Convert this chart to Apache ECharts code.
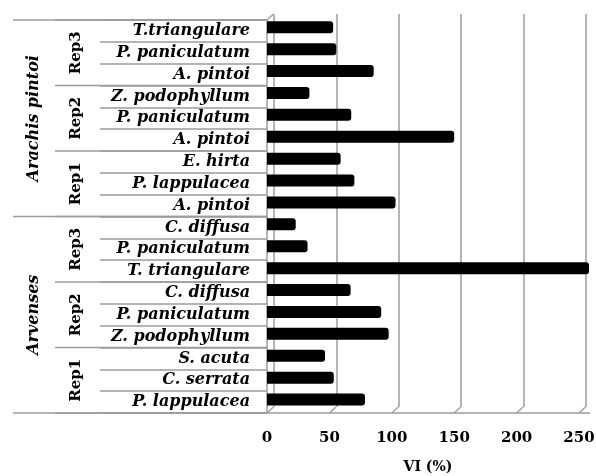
<!DOCTYPE html>
<html>
<head>
<meta charset="utf-8">
<script src="https://cdn.jsdelivr.net/npm/echarts@6/dist/echarts.min.js"></script>
<style>
html,body{margin:0;padding:0;background:#fff;}
#chart{width:596px;height:476px;}
</style>
</head>
<body>
<div id="chart"></div>
<script>
// ---- data (top to bottom) ----
const species = ['T.triangulare','P. paniculatum','A. pintoi',
  'Z. podophyllum','P. paniculatum','A. pintoi',
  'E. hirta','P. lappulacea','A. pintoi',
  'C. diffusa','P. paniculatum','T. triangulare',
  'C. diffusa','P. paniculatum','Z. podophyllum',
  'S. acuta','C. serrata','P. lappulacea'];
const viValues = [53, 55.5, 85.5, 34, 67.5, 150, 59, 70, 103,
  23, 32.5, 258, 67, 91.5, 97.5, 46.5, 53.5, 78.5];
const repLabels = ['Rep3','Rep2','Rep1','Rep3','Rep2','Rep1'];
const repSpans = [[0,2],[3,5],[6,8],[9,11],[12,14],[15,17]];
const groupLabels = ['Arachis pintoi','Arvenses'];
const groupSpans = [[0,8],[9,17]];
const xTicks = [0, 50, 100, 150, 200, 250];
const axisTitle = 'VI (%)';

const FONT = 'DejaVu Serif';
const LINE = '#9c9c9c';
const catIdx = species.map((s, i) => String(i));

const chart = echarts.init(document.getElementById('chart'), null, {renderer: 'canvas'});

// hierarchy (rep / group) labels + separator lines
const hierData = [];
repSpans.forEach((s, i) => hierData.push([0, s[0], s[1], 1, repLabels[i]]));
groupSpans.forEach((s, i) => hierData.push([0, s[0], s[1], 2, groupLabels[i]]));

function renderHier(params, api) {
  const start = api.value(1), end = api.value(2), level = api.value(3);
  const text = hierData[params.dataIndex][4];
  const band = api.size([0, 1])[1];
  const yTop = api.coord([0, start])[1] - band / 2;
  const yBot = api.coord([0, end])[1] + band / 2;
  const xRight = api.coord([0, 0])[0];
  const xLeft = level === 1 ? 55 : 13;
  const xText = level === 1 ? 76 : 34;
  const children = [
    {type: 'line', shape: {x1: xLeft, y1: yBot, x2: xRight, y2: yBot},
     style: {stroke: LINE, lineWidth: 1.5}},
    {type: 'text', x: xText, y: (yTop + yBot) / 2, rotation: Math.PI / 2,
     style: {text: text, fill: '#000', align: 'center', verticalAlign: 'middle',
       font: (level === 2 ? 'italic ' : '') + 'bold ' + (level === 2 ? 16 : 15) + 'px "' + FONT + '"'}}
  ];
  if (start === 0) {
    children.push({type: 'line', shape: {x1: xLeft, y1: yTop, x2: xRight, y2: yTop},
      style: {stroke: LINE, lineWidth: 1.5}});
  }
  return {type: 'group', children: children};
}

// pseudo-3D floor ticks & wall edges
function renderFloor(params, api) {
  const v = api.value(0);
  const band = api.size([0, 1])[1];
  const p = api.coord([v, species.length - 1]);
  const yBot = p[1] + band / 2;
  const children = [
    {type: 'line', shape: {x1: p[0], y1: yBot, x2: p[0] + 6.5, y2: yBot - 6},
     style: {stroke: LINE, lineWidth: 1.3}}
  ];
  if (params.dataIndex === 0) {
    const t = api.coord([0, 0]);
    const yTop = t[1] - band / 2;
    const xEnd = api.coord([xTicks[xTicks.length - 1], 0])[0] + 11;
    children.push(
      {type: 'line', shape: {x1: t[0], y1: yTop, x2: t[0] + 6.5, y2: yTop - 6},
       style: {stroke: LINE, lineWidth: 1.3}},
      {type: 'line', shape: {x1: t[0], y1: yTop, x2: t[0], y2: yBot},
       style: {stroke: LINE, lineWidth: 1.5}},
      {type: 'line', shape: {x1: t[0], y1: yBot, x2: xEnd, y2: yBot},
       style: {stroke: LINE, lineWidth: 1.5}}
    );
  }
  return {type: 'group', children: children};
}

const option = {
  backgroundColor: '#fff',
  animation: false,
  grid: [
    {left: 267, right: 17, top: 16.3, bottom: 65.5, outerBoundsMode: 'none', containLabel: false},
    {left: 267, right: 17, top: 20, bottom: 63, outerBoundsMode: 'none', containLabel: false},
    {left: 274, right: 10, top: 14, bottom: 69, outerBoundsMode: 'none', containLabel: false}
  ],
  xAxis: [
    {gridIndex: 0, type: 'value', min: 0, max: 250, interval: 50, show: false},
    {gridIndex: 1, type: 'value', min: 0, max: 250, interval: 50,
     axisLine: {show: false}, axisTick: {show: false}, splitLine: {show: false},
     axisLabel: {margin: 18, color: '#000', fontFamily: FONT, fontWeight: 'bold', fontSize: 15,
       formatter: v => xTicks.indexOf(v) >= 0 ? String(v) : ''},
     name: axisTitle, nameLocation: 'middle', nameGap: 47,
     nameTextStyle: {color: '#000', fontFamily: FONT, fontWeight: 'bold', fontSize: 14, padding: [0, 0, 0, 10]}},
    {gridIndex: 2, type: 'value', min: 0, max: 250, interval: 50,
     axisLine: {show: false}, axisTick: {show: false}, axisLabel: {show: false},
     splitLine: {show: true, lineStyle: {color: LINE, width: 1.5}}}
  ],
  yAxis: [
    {gridIndex: 0, type: 'category', data: catIdx, inverse: true, show: false},
    {gridIndex: 1, type: 'category', data: catIdx, inverse: true,
     axisLine: {show: false},
     axisTick: {show: true, length: 167, interval: 0, lineStyle: {color: LINE, width: 1.5}},
     axisLabel: {margin: 17, interval: 0, color: '#000', fontFamily: FONT, fontWeight: 'bold',
       fontStyle: 'italic', fontSize: 16, formatter: v => species[+v]},
     splitLine: {show: false}},
    {gridIndex: 2, type: 'category', data: catIdx, inverse: true, show: false}
  ],
  series: [
    {type: 'custom', xAxisIndex: 2, yAxisIndex: 2, silent: true, z: 1,
     data: [0], renderItem: () => ({type: 'group', children: []})},
    {type: 'bar', xAxisIndex: 0, yAxisIndex: 0, data: viValues, barWidth: 12, clip: false,
     itemStyle: {color: '#000', borderRadius: [0, 3, 3, 0]}, z: 5},
    {type: 'custom', xAxisIndex: 1, yAxisIndex: 1, silent: true, clip: false, z: 3,
     encode: {x: 0, y: 1}, data: hierData.map(d => d.slice(0, 4)), renderItem: renderHier},
    {type: 'custom', xAxisIndex: 1, yAxisIndex: 1, silent: true, clip: false, z: 3,
     encode: {x: 0, y: 1}, data: xTicks.map(v => [v, 0]), renderItem: renderFloor}
  ]
};
chart.setOption(option);
</script>
</body>
</html>
